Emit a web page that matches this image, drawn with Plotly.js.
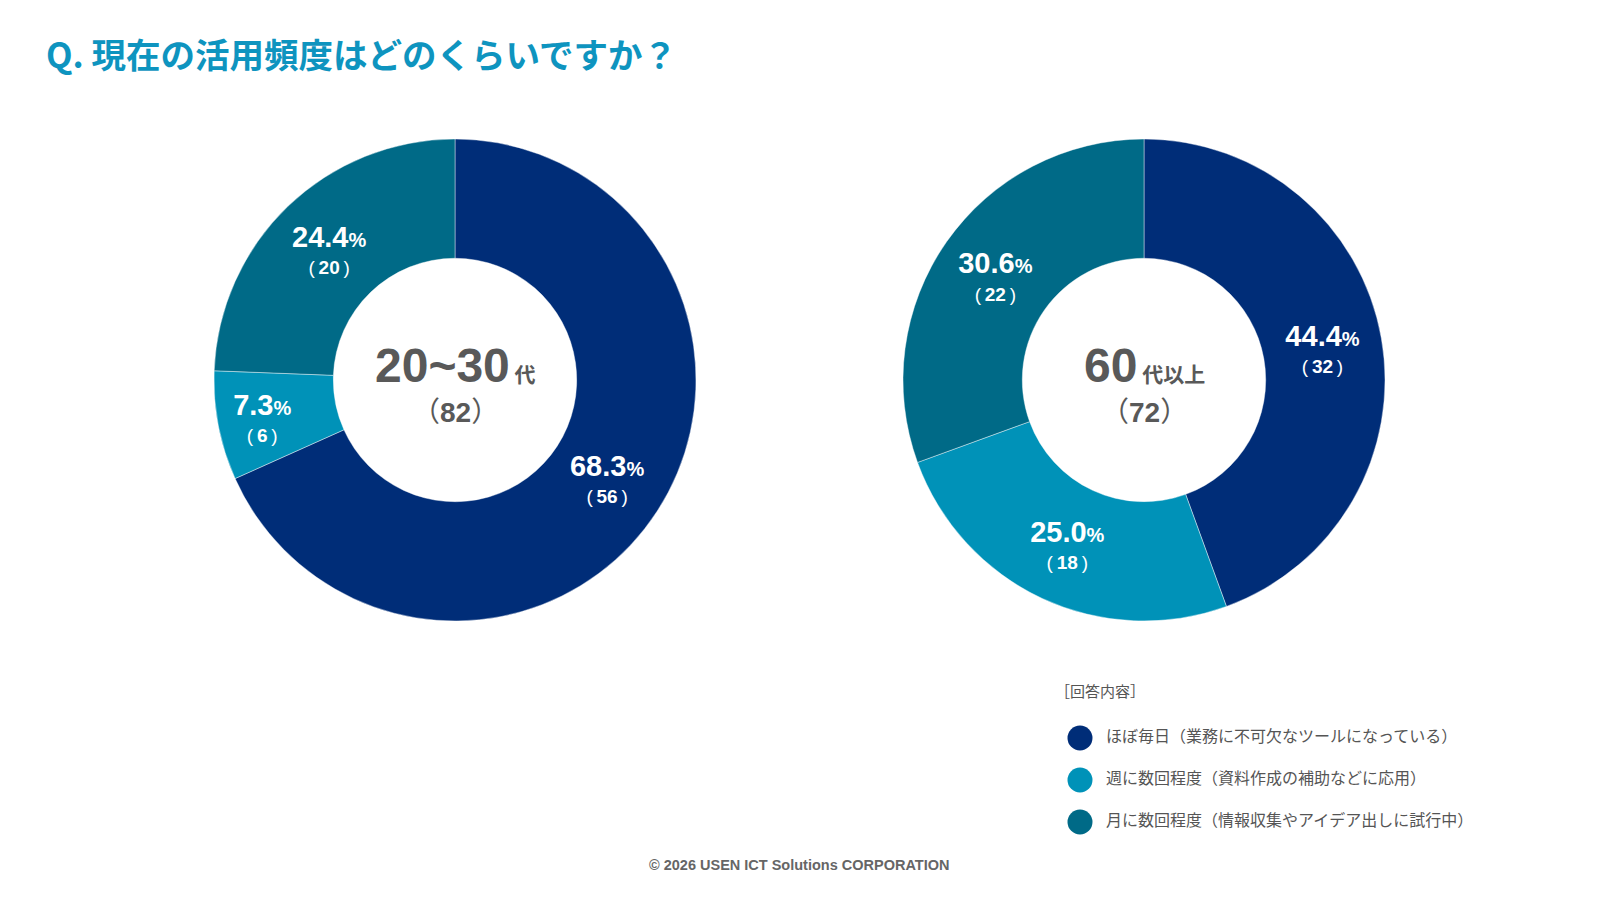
<!DOCTYPE html>
<html>
<head>
<meta charset="utf-8">
<script src="https://cdn.plot.ly/plotly-3.0.1.min.js"></script>
<style>html,body{margin:0;padding:0;background:#fff;}#chart{width:1600px;height:900px;}</style>
</head>
<body>
<div id="chart"></div>
<script>
// ---- data ----
const categories = [
  "ほぼ毎日（業務に不可欠なツールになっている）",
  "週に数回程度（資料作成の補助などに応用）",
  "月に数回程度（情報収集やアイデア出しに試行中）"
];
const colors = ["#002d78", "#0092b8", "#006a87"];
const groupYoung = "20~30";
const groupYoungSuffix = "代";
const youngCounts = [56, 6, 20];
const groupSenior = "60";
const groupSeniorSuffix = "代以上";
const seniorCounts = [32, 18, 22];
const titleText = "Q. 現在の活用頻度はどのくらいですか？";
const legendTitle = "［回答内容］";
const footerText = "© 2026 USEN ICT Solutions CORPORATION";

// ---- helpers ----
const W = 1600, H = 900;
const px = x => x / W;
const py = y => 1 - y / H;
const sum = a => a.reduce((s, v) => s + v, 0);
const pctStrings = a => { const t = sum(a); return a.map(v => (v / t * 100).toFixed(1)); };

const numFont = "Liberation Sans, Arial, Noto Sans CJK JP, sans-serif";
const cjkFont = "Noto Sans CJK JP, sans-serif";

const tmpl = "<b><span style='font-size:29px'>%{customdata}</span><span style='font-size:20px'>%</span></b><br>" +
             "<span style='font-size:19px'>(</span><b><span style='font-size:19px'>\u2009%{value}\u2009</span></b><span style='font-size:19px'>)</span>";

function donut(values, dom) {
  return {
    type: "pie",
    values: values,
    labels: categories,
    customdata: pctStrings(values),
    hole: 0.505,
    sort: false,
    direction: "clockwise",
    rotation: 0,
    domain: dom,
    marker: { colors: colors, line: { color: "rgba(255,255,255,0.7)", width: 0.6 } },
    texttemplate: tmpl,
    textposition: "inside",
    insidetextorientation: "horizontal",
    textfont: { family: numFont, size: 21, color: "#ffffff" },
    hoverinfo: "skip",
    showlegend: false
  };
}

const R = 241, CY = 380, LX = 455, RX = 1144;
const domLeft = { x: [px(LX - R), px(LX + R)], y: [py(CY + R), py(CY - R)] };
const domRight = { x: [px(RX - R), px(RX + R)], y: [py(CY + R), py(CY - R)] };

const legendMarkers = {
  type: "scatter", mode: "markers",
  x: categories.map(() => 0), y: categories,
  xaxis: "x", yaxis: "y",
  marker: { size: 25, color: colors, symbol: "circle" },
  hoverinfo: "skip", showlegend: false, cliponaxis: false
};
const legendTexts = {
  type: "scatter", mode: "text",
  x: categories.map(() => 1), y: categories,
  xaxis: "x", yaxis: "y",
  text: categories, textposition: "middle right",
  textfont: { family: cjkFont, size: 16, color: "#555555" },
  hoverinfo: "skip", showlegend: false, cliponaxis: false
};

const centerAnn = (cx, big, small, count) => ([
  {
    xref: "paper", yref: "paper", x: px(cx), y: py(CY), yshift: 15,
    xanchor: "center", yanchor: "middle", showarrow: false,
    text: "<b><span style='font-size:48px;font-family:" + numFont + "'>" + big + "</span><span style='font-size:21px'> " + small + "</span></b>",
    font: { family: cjkFont, size: 48, color: "#595959" }
  },
  {
    xref: "paper", yref: "paper", x: px(cx), y: py(CY), yshift: -30,
    xanchor: "center", yanchor: "middle", showarrow: false,
    text: "<span style='font-family:" + cjkFont + "'>（</span><b>" + count + "</b><span style='font-family:" + cjkFont + "'>）</span>",
    font: { family: numFont, size: 28, color: "#595959" }
  }
]);

const layout = {
  width: W, height: H,
  margin: { l: 0, r: 0, t: 0, b: 0 },
  paper_bgcolor: "#ffffff", plot_bgcolor: "rgba(0,0,0,0)",
  showlegend: false,
  title: {
    text: "<b>" + titleText + "</b>",
    x: px(46), xanchor: "left", y: py(56), yanchor: "middle",
    font: { family: cjkFont, size: 34.5, color: "#0e94bf" }
  },
  xaxis: { domain: [px(1080), px(1340)], range: [0, 10], visible: false, fixedrange: true },
  yaxis: { domain: [py(843), py(717)], type: "category", range: [2.5, -0.5], visible: false, fixedrange: true },
  annotations: [
    ...centerAnn(LX, groupYoung, groupYoungSuffix, sum(youngCounts)),
    ...centerAnn(RX, groupSenior, groupSeniorSuffix, sum(seniorCounts)),
    {
      xref: "paper", yref: "paper", x: px(1053), y: py(690), xanchor: "left", yanchor: "middle",
      showarrow: false, text: legendTitle,
      font: { family: cjkFont, size: 15, color: "#555555" }
    },
    {
      xref: "paper", yref: "paper", x: px(799), y: py(865), xanchor: "center", yanchor: "middle",
      showarrow: false, text: "<b>" + footerText + "</b>",
      font: { family: numFont, size: 14.5, color: "#666666" }
    }
  ]
};

Plotly.newPlot("chart", [donut(youngCounts, domLeft), donut(seniorCounts, domRight), legendMarkers, legendTexts], layout, { displayModeBar: false, staticPlot: true });
</script>
</body>
</html>
